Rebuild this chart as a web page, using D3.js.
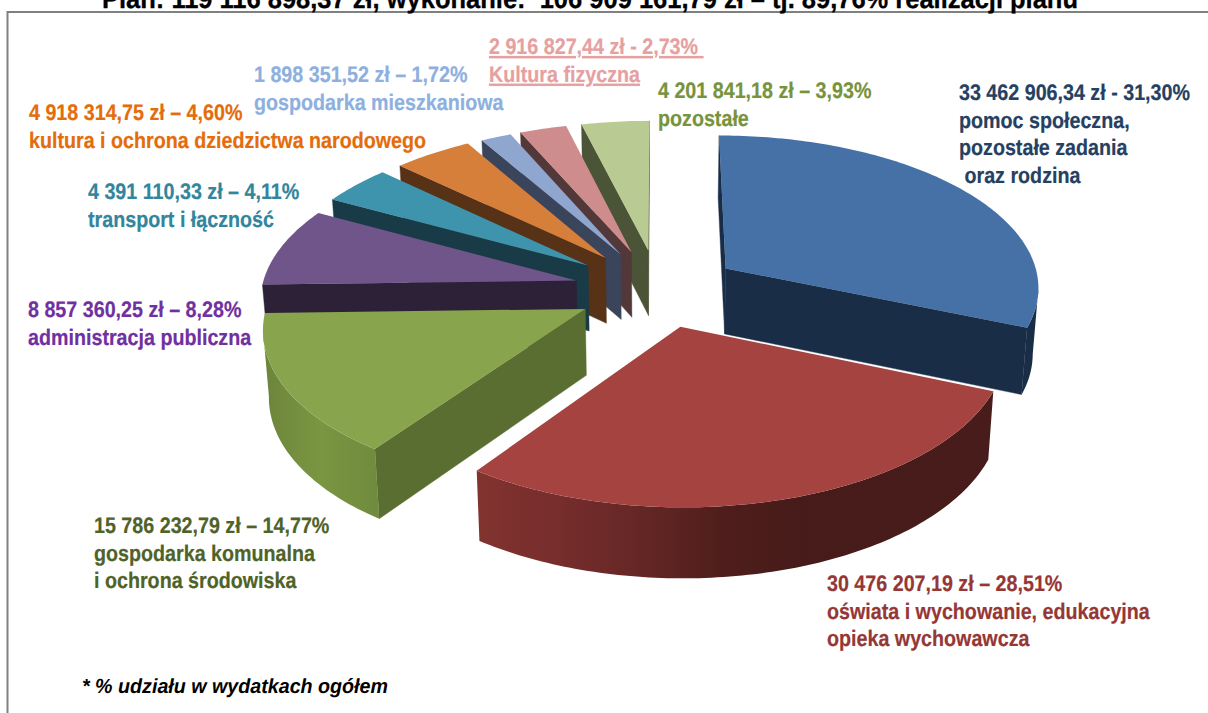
<!DOCTYPE html>
<html><head><meta charset="utf-8">
<script src="https://cdnjs.cloudflare.com/ajax/libs/d3/7.8.5/d3.min.js"></script>
<style>html,body{margin:0;padding:0;background:#fff;overflow:hidden}svg{display:block}
text{font-family:"Liberation Sans",Arial,sans-serif;font-weight:bold;white-space:pre;text-rendering:geometricPrecision}</style>
</head><body><svg id="c" width="1208" height="713"></svg>
<script>
// ---- data ----
const categories = ["pomoc społeczna","oświata i wychowanie","gospodarka komunalna","administracja publiczna","transport i łączność","kultura i ochrona dziedzictwa","gospodarka mieszkaniowa","Kultura fizyczna","pozostałe"];
const amounts = [33462906.34,30476207.19,15786232.79,8857360.25,4391110.33,4918314.75,1898351.52,2916827.44,4201841.18];
const topColors = ["#4571A6","#A54341","#88A44C","#70558B","#3F94AD","#D67F3B","#8FA6CE","#CE8D8C","#B9CB92"];
const sideColors = ["#1A2D47","#4A1C1A","#5B6E31","#2C2136","#193B47","#573216","#3A445A","#533839","#4C5438"];
const explode = [0.26,0.245,0.26,0.27,0.28,0.275,0.27,0.27,0.27];
const drawOrder = [8,7,6,5,4,3,2,0,1];
const redRimX = [478,560,650,720,800,990], redRimC = ["#81332f","#762d2c","#622624","#4f1e1c","#461b19","#471c1a"];
const greenRimX = [262,320,378], greenRimC = ["#6c843a","#7a9642","#6f8b3d"];
const labelLines = [
 ["33 462 906,34 zł - 31,30%","pomoc społeczna,","pozostałe zadania"," oraz rodzina"],
 ["30 476 207,19 zł – 28,51%","oświata i wychowanie, edukacyjna","opieka wychowawcza"],
 ["15 786 232,79 zł – 14,77%","gospodarka komunalna","i ochrona środowiska"],
 ["8 857 360,25 zł – 8,28%","administracja publiczna"],
 ["4 391 110,33 zł – 4,11%","transport i łączność"],
 ["4 918 314,75 zł – 4,60%","kultura i ochrona dziedzictwa narodowego"],
 ["1 898 351,52 zł – 1,72%","gospodarka mieszkaniowa"],
 ["2 916 827,44 zł - 2,73% ","Kultura fizyczna"],
 ["4 201 841,18 zł – 3,93%","pozostałe"]];
const labelColors = ["#254061","#953735","#4F6228","#7030A0","#31859C","#E46C0A","#8DB0E0","#E6A0A0","#77933C"];
const labelAnchors = [[959,100],[827,591],[94,533],[28,317],[88,199],[29,120],[254,82],[489,54],[658,98]];
const titleText = "Plan: 119 116 898,37 zł, wykonanie:  106 909 161,79 zł – tj. 89,76% realizacji planu";
const noteText = "* % udziału w wydatkach ogółem";

// ---- layout ----
const cx=658.5, cy=290, R=315, K=152, P=0.11, depth=66, squeeze=0.985;
const svg=d3.select("#c");
const defs=svg.append("defs");
const s=v=>1/(1-P*v);
const proj=(u,v)=>[cx+R*u*s(v), cy+K*v*s(v)];
const lower=(u,v)=>{const p=proj(u,v);return [cx+(p[0]-cx)*squeeze, p[1]+depth*Math.sqrt(s(v))];};
const line=d3.line();
const arcs=d3.pie().sort(null).value(d=>d)(amounts);
const rimStops={1:[redRimX,redRimC],2:[greenRimX,greenRimC]};

Object.entries(rimStops).forEach(([i,[xs,cs]])=>{
  const lo=d3.min(xs),hi=d3.max(xs);
  const gr=defs.append("linearGradient").attr("id","rim"+i).attr("gradientUnits","userSpaceOnUse")
    .attr("x1",lo).attr("x2",hi).attr("y1",0).attr("y2",0);
  xs.forEach((x,k)=>gr.append("stop").attr("offset",(x-lo)/(hi-lo)).attr("stop-color",cs[k]));
});

// frame
svg.append("path").attr("d","M1208,12 H7.5 V713").attr("fill","none").attr("stroke","#808080").attr("stroke-width",2);

drawOrder.forEach(i=>{
  const a=arcs[i], mid=(a.startAngle+a.endAngle)/2;
  const ox=Math.sin(mid)*explode[i], oy=-Math.cos(mid)*explode[i];
  const n=Math.max(2,Math.ceil((a.endAngle-a.startAngle)/(Math.PI/180)));
  const pts=[[ox,oy]];
  d3.range(n+1).forEach(k=>{const t=a.startAngle+(a.endAngle-a.startAngle)*k/n;pts.push([ox+Math.sin(t),oy-Math.cos(t)]);});
  const g=svg.append("g");
  const all=pts.concat([pts[0]]);
  const faces=(A,B)=>proj(...B)[0]<proj(...A)[0];
  // straight cut faces
  [[all[0],all[1]],[all[all.length-2],all[all.length-1]]].forEach(([A,B])=>{
    if(!faces(A,B)) return;
    g.append("path").attr("d",line([proj(...A),proj(...B),lower(...B),lower(...A)])+"Z")
      .attr("fill",sideColors[i]).attr("stroke",sideColors[i]).attr("stroke-width",0.4);
  });
  // outer rim: the run of arc points that face the viewer
  const rim=pts.slice(1);
  const vis=rim.filter((p,k)=>(k<rim.length-1&&faces(p,rim[k+1]))||(k>0&&faces(rim[k-1],p)));
  if(vis.length>1){
    const poly=vis.map(p=>proj(...p)).concat(vis.slice().reverse().map(p=>lower(...p)));
    g.append("path").attr("d",line(poly)+"Z")
      .attr("fill",rimStops[i]?`url(#rim${i})`:sideColors[i]);
  }
  g.append("path").attr("d",line(pts.map(p=>proj(...p)))+"Z").attr("fill",topColors[i]);
});

// labels
const fs=22.5, sx=0.875, step=27.7;
labelLines.forEach((ls,i)=>{
  ls.forEach((t,j)=>{
    const el=svg.append("text").attr("transform",`translate(${labelAnchors[i][0]},${labelAnchors[i][1]+j*step}) scale(${sx},1)`)
      .attr("font-size",fs).attr("fill",labelColors[i]).attr("stroke",labelColors[i]).attr("stroke-width",0.2).text(t);
    if(i===7) el.attr("text-decoration","underline");
  });
});
svg.append("text").attr("x",102).attr("y",8).attr("font-size",27).attr("fill","#000").attr("stroke","#000").attr("stroke-width",0.3)
  .attr("textLength",976).attr("lengthAdjust","spacingAndGlyphs").text(titleText);
svg.append("text").attr("x",82).attr("y",693).attr("font-size",20.5).attr("font-style","italic").attr("fill","#000")
  .attr("textLength",306).attr("lengthAdjust","spacingAndGlyphs").text(noteText);
</script></body></html>
